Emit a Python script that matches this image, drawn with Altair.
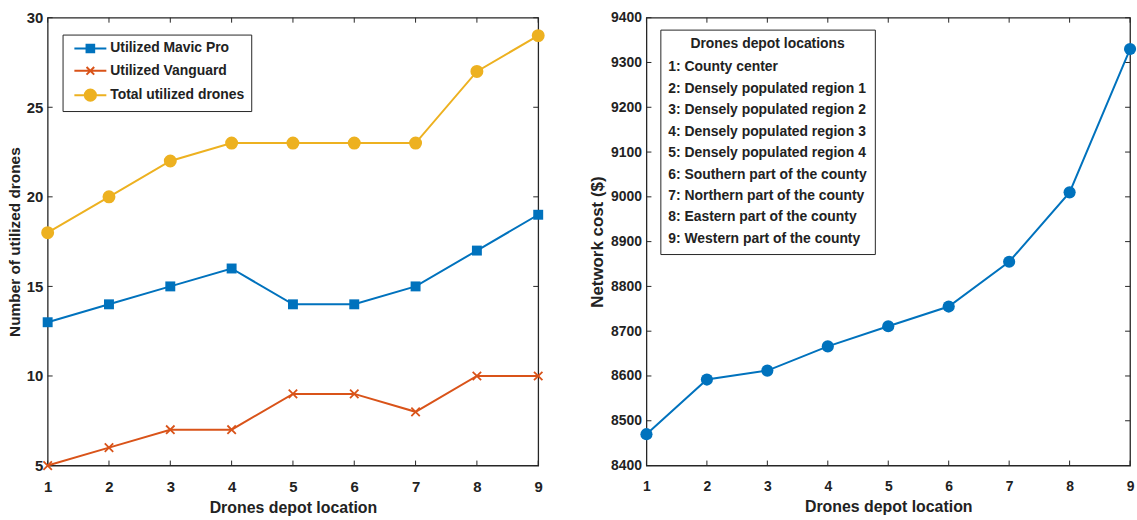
import altair as alt
import pandas as pd

# ---------------- data ----------------
locations = [1, 2, 3, 4, 5, 6, 7, 8, 9]
mavic_pro = [13, 14, 15, 16, 14, 14, 15, 17, 19]
vanguard = [5, 6, 7, 7, 9, 9, 8, 10, 10]
total_drones = [18, 20, 22, 23, 23, 23, 23, 27, 29]
network_cost = [8470, 8592, 8612, 8666, 8711, 8755, 8855, 9010, 9330]

series_names = ["Utilized Mavic Pro", "Utilized Vanguard", "Total utilized drones"]
series_colors = ["#0072BD", "#D95319", "#EDB120"]

location_names = [
    "1: County center",
    "2: Densely populated region 1",
    "3: Densely populated region 2",
    "4: Densely populated region 3",
    "5: Densely populated region 4",
    "6: Southern part of the county",
    "7: Northern part of the county",
    "8: Eastern part of the county",
    "9: Western part of the county",
]

x_ticks = [1, 2, 3, 4, 5, 6, 7, 8, 9]
left_y_ticks = [5, 10, 15, 20, 25, 30]
right_y_ticks = [8400, 8500, 8600, 8700, 8800, 8900, 9000, 9100, 9200, 9300, 9400]

# ---------------- style ----------------
FONT = "Liberation Sans"
AX = "#262626"
TXT = "#222"
WL, WR, H = 494, 487, 451
TICK = 5

left_df = pd.DataFrame({
    "location": locations * 3,
    "series": [series_names[0]] * 9 + [series_names[1]] * 9 + [series_names[2]] * 9,
    "value": mavic_pro + vanguard + total_drones,
})
right_df = pd.DataFrame({"location": locations, "cost": network_cost})
names_df = pd.DataFrame({"name": location_names, "n": locations})
xt_df = pd.DataFrame({"location": x_ticks})
ylt_df = pd.DataFrame({"value": left_y_ticks})
yrt_df = pd.DataFrame({"cost": right_y_ticks})

x_scale = alt.Scale(domain=[1, 9], nice=False, zero=False)
xl_axis = alt.Axis(values=x_ticks, format="d", title="Drones depot location",
                   labelFontSize=15, titleFontSize=16)
xr_axis = alt.Axis(values=x_ticks, format="d", title="Drones depot location",
                   labelFontSize=14, titleFontSize=16)
yl_scale = alt.Scale(domain=[5, 30], nice=False, zero=False)
yl_axis = alt.Axis(values=left_y_ticks, format="d", title="Number of utilized drones",
                   labelFontSize=15, titleFontSize=15.5)
yr_scale = alt.Scale(domain=[8400, 9400], nice=False, zero=False)
yr_axis = alt.Axis(values=right_y_ticks, format="d", title="Network cost ($)",
                   labelFontSize=14, titleFontSize=17)

XL = alt.X("location:Q", scale=x_scale, axis=xl_axis)
XR = alt.X("location:Q", scale=x_scale, axis=xr_axis)
YL = alt.Y("value:Q", scale=yl_scale, axis=yl_axis)
YR = alt.Y("cost:Q", scale=yr_scale, axis=yr_axis)

# ---------------- left panel ----------------
legend_paths = [
    "M-2.3,0H2.3M-0.55,-0.55H0.55V0.55H-0.55Z",
    "M-2.3,0H2.3M-0.55,-0.55L0.55,0.55M0.55,-0.55L-0.55,0.55",
    "M-2.3,0H2.3M0.8,0A0.8,0.8,0,1,1,-0.8,0A0.8,0.8,0,1,1,0.8,0Z",
]


def pick(values):
    arr = "[" + ",".join("'" + v + "'" for v in values) + "]"
    names = "[" + ",".join("'" + v + "'" for v in series_names) + "]"
    return arr + "[indexof(" + names + ", datum.value)]"


leg_l = alt.Legend(
    title=None, orient="none", legendX=15, legendY=17,
    strokeColor=AX, fillColor="white", padding=6, rowPadding=6.5,
    symbolSize=196, symbolOffset=14, labelOffset=12, symbolStrokeWidth=2,
    symbolType=alt.ExprRef(expr=pick(legend_paths)),
    symbolStrokeColor=alt.ExprRef(expr=pick(series_colors)),
    symbolOpacity=1,
    labelFont=FONT, labelFontSize=14, labelFontWeight="bold", labelColor=TXT,
)

base_l = alt.Chart(left_df)
lines_l = [
    base_l.transform_filter(alt.datum.series == name).mark_line(
        strokeWidth=2, color=col).encode(x=XL, y=YL)
    for name, col in zip(series_names, series_colors)
]
sq = base_l.transform_filter(alt.datum.series == series_names[0]).mark_square(
    size=100, opacity=1).encode(
    x=XL, y=YL,
    fill=alt.Fill("series:N", scale=alt.Scale(domain=series_names, range=series_colors), legend=leg_l),
)
xm = base_l.transform_filter(alt.datum.series == series_names[1]).mark_point(
    shape="M-1,-1L1,1M1,-1L-1,1", size=72, strokeWidth=1.8, color=series_colors[1],
    opacity=1, filled=False).encode(x=XL, y=YL)
ci = base_l.transform_filter(alt.datum.series == series_names[2]).mark_circle(
    size=170, color=series_colors[2], opacity=1).encode(x=XL, y=YL)

xt_l = alt.Chart(xt_df)
yt_l = alt.Chart(ylt_df)
ticks_l = [
    xt_l.mark_rule(color=AX).encode(x=XL, y=alt.value(H), y2=alt.value(H - TICK)),
    xt_l.mark_rule(color=AX).encode(x=XL, y=alt.value(0), y2=alt.value(TICK)),
    yt_l.mark_rule(color=AX).encode(y=YL, x=alt.value(0), x2=alt.value(TICK)),
    yt_l.mark_rule(color=AX).encode(y=YL, x=alt.value(WL), x2=alt.value(WL - TICK)),
]

left = alt.layer(*ticks_l, *lines_l, xm, ci, sq).properties(width=WL, height=H)

# ---------------- right panel ----------------
base_r = alt.Chart(right_df)
line_r = base_r.mark_line(strokeWidth=2, color=series_colors[0]).encode(x=XR, y=YR)
pts_r = base_r.mark_circle(size=150, color=series_colors[0], opacity=1).encode(x=XR, y=YR)

leg_r = alt.Legend(
    title="Drones depot locations", orient="none", legendX=14, legendY=12,
    strokeColor=AX, fillColor="white", padding=8, rowPadding=7.6,
    symbolSize=0.01, symbolOffset=0, labelOffset=alt.ExprRef(expr="-14"), symbolType="circle",
    symbolStrokeWidth=0.01, symbolOpacity=0,
    labelFont=FONT, labelFontSize=14, labelFontWeight="bold", labelColor=TXT,
    titleFont=FONT, titleFontSize=14, titleFontWeight="bold", titleColor=TXT,
    titleAnchor="middle", titlePadding=9, labelLimit=400,
)
names_layer = alt.Chart(names_df).transform_filter("datum.n < 0").mark_point(opacity=0).encode(
    x=alt.X("n:Q", scale=x_scale, axis=xr_axis),
    fill=alt.Fill("name:N", scale=alt.Scale(domain=location_names, range=["#0072BD"] * 9), legend=leg_r),
)

xt_r = alt.Chart(xt_df)
yt_r = alt.Chart(yrt_df)
ticks_r = [
    xt_r.mark_rule(color=AX).encode(x=XR, y=alt.value(H), y2=alt.value(H - TICK)),
    xt_r.mark_rule(color=AX).encode(x=XR, y=alt.value(0), y2=alt.value(TICK)),
    yt_r.mark_rule(color=AX).encode(y=YR, x=alt.value(0), x2=alt.value(TICK)),
    yt_r.mark_rule(color=AX).encode(y=YR, x=alt.value(WR), x2=alt.value(WR - TICK)),
]

right = alt.layer(*ticks_r, line_r, pts_r, names_layer).properties(width=WR, height=H)

chart = alt.hconcat(left, right, spacing=41).resolve_scale(
    x="independent", y="independent", fill="independent",
).resolve_legend(
    fill="independent",
).properties(
    padding={"left": 6, "top": 8, "right": 0, "bottom": 0},
    background="white",
).configure_view(
    stroke=AX, strokeWidth=1.3,
).configure_axis(
    grid=False, ticks=False, domain=False, labelFlush=False,
    labelFont=FONT, labelFontWeight="bold", labelColor=TXT,
    titleFont=FONT, titleFontWeight="bold", titleColor=TXT,
).configure_axisX(labelPadding=14, titlePadding=5).configure_axisY(labelPadding=5, titlePadding=4)

chart.save("out.html", embed_options={"renderer": "svg", "actions": False})
